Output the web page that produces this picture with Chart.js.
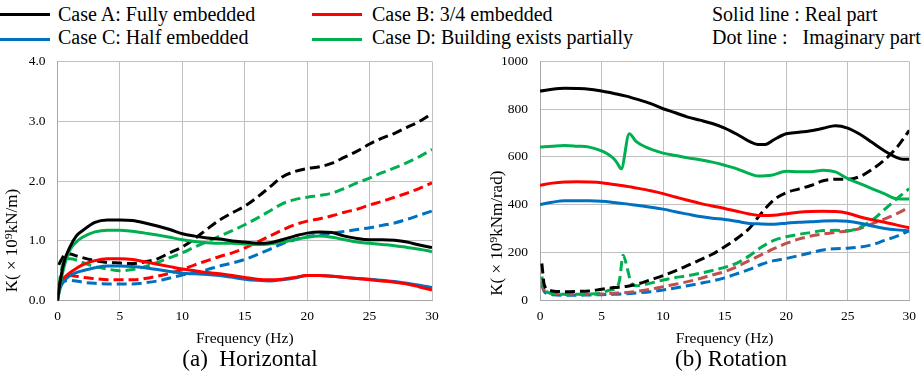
<!DOCTYPE html>
<html><head><meta charset="utf-8">
<script src="https://cdn.jsdelivr.net/npm/chart.js@4.4.1/dist/chart.umd.min.js"></script>
<style>
body{margin:0;background:#fff;width:924px;height:372px;overflow:hidden;position:relative;font-family:"Liberation Serif","Tinos","Times New Roman",serif;color:#000}
.lg{position:absolute;font-size:20px;line-height:24px;white-space:pre}
.ln{position:absolute;height:3px;width:50px}
canvas{position:absolute}
.cap{position:absolute;font-size:23px;line-height:26px;white-space:pre;transform:translateX(-50%)}
</style></head><body>
<div class="ln" style="left:0;top:13px;background:#000"></div>
<div class="lg" style="left:58px;top:2px">Case A: Fully embedded</div>
<div class="ln" style="left:312px;top:13px;background:#ff0000"></div>
<div class="lg" style="left:372px;top:2px">Case B: 3/4 embedded</div>
<div class="lg" style="left:712px;top:2px">Solid line : Real part</div>
<div class="ln" style="left:0;top:38px;background:#0070c0"></div>
<div class="lg" style="left:58px;top:25px">Case C: Half embedded</div>
<div class="ln" style="left:312px;top:38px;background:#00b050"></div>
<div class="lg" style="left:372px;top:25px">Case D: Building exists partially</div>
<div class="lg" style="left:712px;top:25px">Dot line :   Imaginary part</div>
<canvas id="c1" width="460" height="310" style="left:0;top:45px"></canvas>
<canvas id="c2" width="459" height="310" style="left:465px;top:45px"></canvas>
<div class="cap" style="left:250px;top:346px">(a)  Horizontal</div>
<div class="cap" style="left:731px;top:346px">(b) Rotation</div>
<script>
// ---- (a) Horizontal ----
const hFreqRe = [0,0.2,0.5,1,1.5,2,3,4,5,6,7,8,9,10,11,12,13,14,15,16,17,18,19,20,21,22,23,24,25,26,27,28,29,30];
const hA_re = [0,0.3,0.63,0.9,1.08,1.17,1.31,1.35,1.35,1.34,1.30,1.25,1.19,1.12,1.08,1.05,1.03,1.00,0.98,0.96,0.97,1.02,1.08,1.13,1.15,1.14,1.08,1.04,1.02,1.02,1.01,0.98,0.93,0.89];
const hB_re = [0,0.3,0.38,0.47,0.54,0.6,0.67,0.7,0.7,0.69,0.65,0.61,0.57,0.53,0.5,0.47,0.45,0.42,0.39,0.36,0.35,0.36,0.39,0.42,0.42,0.41,0.39,0.37,0.35,0.33,0.31,0.28,0.23,0.18];
const hC_re = [0,0.2,0.32,0.42,0.47,0.5,0.55,0.58,0.58,0.57,0.55,0.52,0.49,0.46,0.45,0.44,0.42,0.39,0.36,0.34,0.33,0.35,0.38,0.42,0.42,0.41,0.39,0.37,0.36,0.34,0.32,0.29,0.26,0.22];
const hD_re = [0,0.25,0.55,0.85,0.98,1.06,1.15,1.18,1.18,1.16,1.13,1.10,1.06,1.02,0.99,0.97,0.96,0.96,0.95,0.94,0.95,0.98,1.02,1.06,1.08,1.06,1.02,0.98,0.96,0.94,0.92,0.89,0.86,0.82];
const hFreqIm = [0.1,0.3,0.6,1,1.5,2,3,4,5,6,7,8,9,10,11,12,13,14,15,16,17,18,19,20,21,22,23,24,25,26,27,28,29,30];
const hA_im = [0.6,0.68,0.77,0.78,0.75,0.72,0.67,0.64,0.63,0.62,0.65,0.7,0.8,0.9,1.04,1.2,1.35,1.47,1.58,1.73,1.9,2.07,2.16,2.21,2.24,2.3,2.4,2.5,2.62,2.72,2.8,2.9,3.0,3.13];
const hB_im = [0.25,0.32,0.4,0.42,0.41,0.39,0.37,0.35,0.35,0.35,0.37,0.41,0.46,0.52,0.6,0.67,0.74,0.8,0.88,0.98,1.08,1.18,1.27,1.33,1.37,1.42,1.48,1.53,1.6,1.66,1.73,1.8,1.88,1.97];
const hC_im = [0.25,0.3,0.33,0.34,0.33,0.31,0.29,0.28,0.28,0.28,0.3,0.33,0.38,0.43,0.47,0.52,0.58,0.63,0.69,0.77,0.86,0.95,1.02,1.07,1.1,1.13,1.16,1.19,1.22,1.26,1.3,1.36,1.43,1.5];
const hD_im = [0.25,0.5,0.7,0.7,0.68,0.64,0.57,0.53,0.5,0.52,0.57,0.64,0.72,0.8,0.9,0.99,1.08,1.17,1.27,1.38,1.5,1.62,1.69,1.73,1.76,1.8,1.88,1.97,2.05,2.14,2.22,2.31,2.41,2.53];
const hTicksY = [0,1,2,3,4];

// ---- (b) Rotation ----
const rFreqA = [0,1,2,3,4,5,6,7,8,9,10,11,12,13,14,15,16,17,17.7,18.3,19,20,21,22,23,24,25,26,27,28,29,29.5,30];
const rA_re = [876,884,888,887,884,876,866,855,840,823,802,785,767,754,740,721,695,665,652,652,672,697,703,710,720,731,721,695,660,625,597,590,590];
const rFreqB = [0,1,2,3,4,5,6,7,8,9,10,11,12,13,14,15,16,17,18,19,20,21,22,23,24,25,26,27,28,29,30];
const rB_re = [481,490,495,496,495,492,484,477,468,458,446,432,418,405,394,384,372,361,354,355,362,368,371,372,371,364,348,336,326,314,303];
const rC_re = [400,410,416,416,416,414,409,403,396,389,381,370,360,350,343,338,330,321,319,318,322,326,328,331,332,330,322,310,300,294,290];
const rFreqD = [0,1,2,3,4,5,5.5,6,6.3,6.6,7.25,7.8,8.6,10,11,12,13,14,15,16,17,17.7,18.8,20,21,22,23,24,25,26,27,28,29,30];
const rD_re = [641,645,648,645,641,625,612,592,572,550,697,665,641,616,606,596,588,578,565,550,530,520,523,540,538,538,544,537,509,488,466,445,424,423];
const rFreqIm = [0.15,0.35,0.75,1,2,3,4,5,6,7,8,9,10,11,12,13,14,15,16,17,18,19,20,21,22,23,24,25,26,27,28,29,30];
const rA_im = [153,63,42,38,35,36,38,45,52,57,68,85,102,122,145,168,192,223,258,300,365,420,450,465,480,500,506,506,518,548,588,640,711];
const rB_im = [77,40,30,28,24,24,24,25,28,31,37,45,56,66,77,90,105,119,140,165,190,215,237,255,268,277,284,289,300,320,340,362,390];
const rC_im = [63,35,25,22,20,20,21,22,24,26,30,35,42,50,60,70,80,93,110,128,150,165,174,186,198,210,215,217,222,232,250,268,290];
const rFreqDim = [0.15,0.35,0.9,2,3,4,5,5.7,6.2,6.45,6.76,7.1,7.43,7.83,8.6,10,11,12,13,14,15,16,17,18,19,20,21,22,23,24,25,26,27,28,29,30];
const rD_im = [98,49,28,24,24,25,30,42,50,80,188,130,70,60,66,84,94,102,112,124,137,155,185,222,250,265,275,283,291,292,290,305,335,380,425,467];
const rTicksY = [0,200,400,600,800,1000];

const BLACK='#000000', RED='#ff0000', BLUE='#0070c0', GREEN='#00b050', BROWN='#c0504d';
Chart.defaults.font.family = '"Liberation Serif","Tinos","Times New Roman",serif';
Chart.defaults.color = '#000';

function ds(label, xs, ys, color, dashed){
  return {label, data: xs.map((x,i)=>({x:x, y:ys[i]})), borderColor:color, backgroundColor:color,
    borderWidth:3, borderDash: dashed?[10,5]:[], pointRadius:0, cubicInterpolationMode:'monotone', fill:false};
}
function opts(p){
  return {
    responsive:false, animation:false, devicePixelRatio:1,
    layout:{padding:{left:0, top:p.top, right:p.right, bottom:0}},
    plugins:{legend:{display:false}, tooltip:{enabled:false}},
    scales:{
      x:{type:'linear', min:0, max:30,
        ticks:{stepSize:5, font:{size:13.5}, padding:8, maxRotation:0, color:'#000'},
        grid:{color:'#c0c0c0', lineWidth:1, drawTicks:false},
        border:{color:'#a6a6a6'},
        title:{display:true, text:'Frequency (Hz)', font:{size:15.5}, padding:{top:0,bottom:7}, color:'#000'},
        afterFit:s=>{s.height=p.xh;}},
      y:{type:'linear', min:p.ymin, max:p.ymax,
        afterBuildTicks:s=>{s.ticks=p.yticks.map(v=>({value:v}));},
        ticks:{font:{size:13.5}, padding:12, color:'#000', callback:p.fmt},
        grid:{color:'#c0c0c0', lineWidth:1, drawTicks:false},
        border:{color:'#a6a6a6'},
        title:{display:true, text:p.ytitle, align:'start', font:{size:17}, padding:{top:p.tpad,bottom:0}, color:'#000'},
        afterFit:s=>{s.width=p.yw; s.paddingTop=8; s.paddingBottom=8;}}
    }
  };
}

new Chart(document.getElementById('c1'), {
  type:'line',
  data:{datasets:[
    ds('A re',hFreqRe,hA_re,BLACK,false), ds('D re',hFreqRe,hD_re,GREEN,false),
    ds('B re',hFreqRe,hB_re,RED,false), ds('C re',hFreqRe,hC_re,BLUE,false),
    ds('A im',hFreqIm,hA_im,BLACK,true), ds('D im',hFreqIm,hD_im,GREEN,true),
    ds('B im',hFreqIm,hB_im,RED,true), ds('C im',hFreqIm,hC_im,BLUE,true)
  ]},
  options: opts({top:16.5, right:28, xh:54.3, yw:57.5, ymin:0, ymax:4, yticks:hTicksY,
    fmt:v=>Number(v).toFixed(1), ytitle:'  K( × 10⁹kN/m)', tpad:2})
});
new Chart(document.getElementById('c2'), {
  type:'line',
  data:{datasets:[
    ds('A re',rFreqA,rA_re,BLACK,false), ds('D re',rFreqD,rD_re,GREEN,false),
    ds('B re',rFreqB,rB_re,RED,false), ds('C re',rFreqB,rC_re,BLUE,false),
    ds('A im',rFreqIm,rA_im,BLACK,true), ds('D im',rFreqDim,rD_im,GREEN,true),
    ds('B im',rFreqIm,rB_im,BROWN,true), ds('C im',rFreqIm,rC_im,BLUE,true)
  ]},
  options: opts({top:16.5, right:9, xh:55, yw:75, ymin:0, ymax:1000, yticks:rTicksY,
    fmt:v=>String(v), ytitle:' K( × 10⁹kNm/rad)', tpad:22})
});
</script>
</body></html>
